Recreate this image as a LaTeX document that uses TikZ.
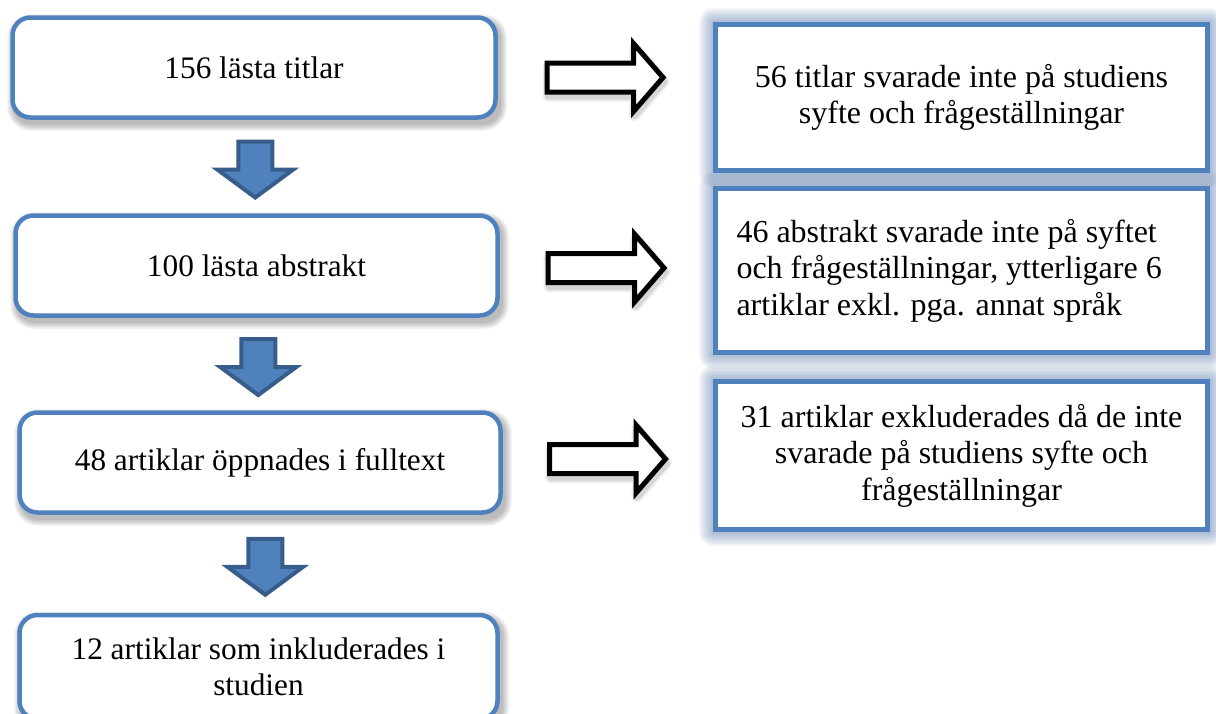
\documentclass[tikz,border=0pt]{standalone}
\usepackage{fontspec}
\setmainfont{Liberation Serif}
\usetikzlibrary{calc,backgrounds}
\definecolor{boxblue}{RGB}{79,129,189}
\definecolor{arrdark}{RGB}{56,93,138}
\definecolor{glowcol}{RGB}{95,125,170}
\newcommand{\MyDownArrow}[1]{%
  \draw[downarr, shift={(#1)}] (-17,-25) -- (17,-25) -- (17,3) -- (38,3) -- (0,31) -- (-38,3) -- (-17,3) -- cycle;}
\newcommand{\MyRightArrow}[1]{%
  \path[shift={(#1)}, shift={(1,4)}, draw=black!70, line width=11pt, line join=round, opacity=0.10]
    (-58.5,-14.5) -- (28,-14.5) -- (28,-34) -- (57.5,0) -- (28,34) -- (28,14.5) -- (-58.5,14.5) -- cycle;
  \path[shift={(#1)}, shift={(1,4)}, draw=black!70, line width=7pt, line join=round, opacity=0.15]
    (-58.5,-14.5) -- (28,-14.5) -- (28,-34) -- (57.5,0) -- (28,34) -- (28,14.5) -- (-58.5,14.5) -- cycle;
  \draw[rarrow, shift={(#1)}]
    (-58.5,-14.5) -- (28,-14.5) -- (28,-34) -- (57.5,0) -- (28,34) -- (28,14.5) -- (-58.5,14.5) -- cycle;}
\begin{document}
\begin{tikzpicture}[x=1pt,y=-1pt,
  lbox/.style={font=\fontsize{31.3}{36}\selectfont, draw=boxblue, line width=4.5pt, fill=white, rounded corners=18pt,
    minimum width=483pt, minimum height=100pt, align=center, inner sep=0pt},
  rbox/.style={font=\fontsize{32}{36.5}\selectfont, draw=boxblue, line width=4.5pt, fill=white,
    minimum width=492pt, align=center, inner sep=0pt},
  downarr/.style={fill=boxblue, draw=arrdark, line width=4pt, line join=miter},
  rarrow/.style={fill=white, draw=black, line width=5pt, line join=miter}]
\useasboundingbox (0,0) rectangle (1216,713);

% left column
\node[lbox] (b1) at (254,67.5) {156 lästa titlar};
\node[lbox, minimum width=482pt] (b2) at (256.5,265.5) {100 lästa abstrakt};
\node[lbox, minimum width=481pt] (b3) at (260,462.5) {48 artiklar öppnades i fulltext};
\node[lbox, minimum width=478pt, minimum height=104pt] (b4) at (258.5,667) {12 artiklar som inkluderades i\\studien};

% right column
\node[rbox, minimum height=146pt] (r1) at (961.5,97.5) {56 titlar svarade inte på studiens\\syfte och frågeställningar};
\node[rbox, minimum height=164pt, align=flush left, text width=450pt, inner xsep=21pt] (r2) at (961.5,270.5) {46 abstrakt svarade inte på syftet\\och frågeställningar, ytterligare 6\\artiklar exkl. pga. annat språk};
\node[rbox, minimum height=148pt] (r3) at (961.5,455.5) {31 artiklar exkluderades då de inte\\svarade på studiens syfte och\\frågeställningar};

% shadows and glows
\begin{scope}[on background layer]
  \foreach \n in {b1,b2,b3,b4} {
    \foreach \e in {0,1.5,3,4.5,6} {
      \pgfmathsetmacro{\rc}{18+\e}
      \fill[black, opacity=0.06, rounded corners=\rc pt]
        ($(\n.north west)+(3-\e,5-\e)$) rectangle ($(\n.south east)+(3+\e,5+\e)$);
    }
  }
  \foreach \n in {r1,r2,r3} {
    \foreach \e in {2,4,6,8,10,12,14} {
      \fill[glowcol, opacity=0.09, rounded corners=\e pt]
        ($(\n.north west)+(-\e,-\e)$) rectangle ($(\n.south east)+(\e,\e)$);
    }
  }
\end{scope}

% down arrows
\coordinate (d1) at ($(b1.south)!0.5!(b2.north)$);
\coordinate (d2) at ($(b2.south)!0.5!(b3.north)$);
\coordinate (d3) at ($($(b3.south)!0.5!(b4.north)$)+(6,0)$);
\MyDownArrow{d1}
\MyDownArrow{d2}
\MyDownArrow{d3}

% right arrows
\coordinate (h1) at ($($(b1.east)!0.5!(r1.west)$)+(0,-5)$);
\coordinate (h2) at ($(b2.east)!0.5!(r2.west)$);
\coordinate (h3) at ($(b3.east)!0.5!(r3.west)$);
\MyRightArrow{h1}
\MyRightArrow{h2}
\MyRightArrow{h3}
\end{tikzpicture}
\end{document}
